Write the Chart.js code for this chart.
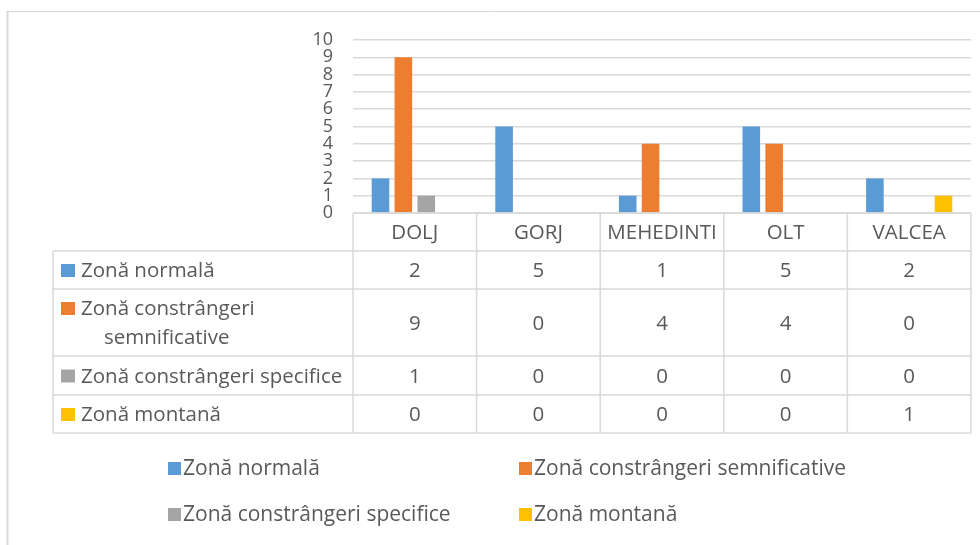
<!DOCTYPE html>
<html>
<head>
<meta charset="utf-8">
<script src="https://cdn.jsdelivr.net/npm/chart.js@4"></script>
<style>
    body { margin: 0; background: #ffffff; }
    #grafico_box { width: 980px; height: 545px; position: relative; }
</style>
</head>
<body>
<div id="grafico_box"><canvas id="canvas_grafico"></canvas></div>
<script>
// DADOS DO GRÁFICO
var judete = ['DOLJ', 'GORJ', 'MEHEDINTI', 'OLT', 'VALCEA']
var zonaNormala = [2, 5, 1, 5, 2]
var zonaSemnificative = [9, 0, 4, 4, 0]
var zonaSpecifice = [1, 0, 0, 0, 0]
var zonaMontana = [0, 0, 0, 0, 1]
var numeSerii = ['Zonă normală', 'Zonă constrângeri semnificative', 'Zonă constrângeri specifice', 'Zonă montană']
var culori = ['#5B9BD5', '#ED7D31', '#A5A5A5', '#FFC000']
var ticksY = [0, 1, 2, 3, 4, 5, 6, 7, 8, 9, 10]

var corTexto = '#595959'
var corLinha = '#d9d9d9'
var fonte = '"Open Sans", sans-serif'
var tamFonte = 20.5
var tamLegenda = 21
var ajusteY = 1.5 // o middle do Open Sans fica um pouco alto

var serii = [zonaNormala, zonaSemnificative, zonaSpecifice, zonaMontana]

// tabela de dados + legenda + moldura desenhadas depois do gráfico
var pluginTabela = {
    id: 'tabelaDados',
    afterDraw: function (chart) {
        var ctx = chart.ctx
        var area = chart.chartArea
        var xs = chart.scales.x
        var esq = 53
        var larg = (area.right - area.left) / judete.length
        var linhas = [area.bottom, 251, 289, 356, 395, 433]

        ctx.save()
        // moldura do gráfico
        ctx.strokeStyle = corLinha
        ctx.lineWidth = 1
        ctx.beginPath()
        ctx.moveTo(7, 11.5); ctx.lineTo(980, 11.5)
        ctx.stroke()
        ctx.lineWidth = 2
        ctx.beginPath()
        ctx.moveTo(7.5, 11); ctx.lineTo(7.5, 545)
        ctx.stroke()

        // linhas da tabela
        ctx.lineWidth = 1.5
        ctx.beginPath()
        ctx.moveTo(area.left, linhas[0]); ctx.lineTo(area.right, linhas[0])
        for (var i = 1; i < linhas.length; i++) {
            ctx.moveTo(esq, linhas[i]); ctx.lineTo(area.right, linhas[i])
        }
        ctx.moveTo(esq, linhas[1]); ctx.lineTo(esq, linhas[5])
        for (var j = 0; j <= judete.length; j++) {
            var xl = area.left + j * larg
            ctx.moveTo(xl, linhas[0]); ctx.lineTo(xl, linhas[5])
        }
        ctx.stroke()

        ctx.fillStyle = corTexto
        ctx.font = tamFonte + 'px ' + fonte
        ctx.textBaseline = 'middle'

        // cabeçalho com os judete
        ctx.textAlign = 'center'
        judete.forEach(function (jud, k) {
            ctx.fillText(jud, xs.getPixelForValue(k), (linhas[0] + linhas[1]) / 2 + ajusteY)
        })

        // linhas de valores
        serii.forEach(function (serie, s) {
            var yc = (linhas[s + 1] + linhas[s + 2]) / 2
            ctx.textAlign = 'center'
            ctx.fillStyle = corTexto
            serie.forEach(function (v, k) {
                ctx.fillText(String(v), xs.getPixelForValue(k), yc + ajusteY)
            })
            // chave + nome da série
            ctx.textAlign = 'left'
            if (s == 1) {
                ctx.fillStyle = culori[s]
                ctx.fillRect(61, 302, 14, 13)
                ctx.fillStyle = corTexto
                ctx.fillText('Zonă constrângeri', 81, 308 + ajusteY)
                ctx.fillText('semnificative', 104, 337 + ajusteY)
            } else {
                ctx.fillStyle = culori[s]
                ctx.fillRect(61, yc - 6, 14, 13)
                ctx.fillStyle = corTexto
                ctx.fillText(numeSerii[s], 81, yc + ajusteY)
            }
        })

        // legenda em baixo
        ctx.font = tamLegenda + 'px ' + fonte
        var posLegenda = [[168, 468], [519, 468], [168, 514], [519, 514]]
        numeSerii.forEach(function (nome, s) {
            var p = posLegenda[s]
            ctx.fillStyle = culori[s]
            ctx.fillRect(p[0], p[1] - 6, 13, 13)
            ctx.fillStyle = corTexto
            ctx.textAlign = 'left'
            ctx.fillText(nome, p[0] + 15, p[1] + ajusteY)
        })
        ctx.restore()
    }
}

var datasets = serii.map(function (serie, s) {
    return {
        label: numeSerii[s],
        data: serie,
        backgroundColor: culori[s],
        borderWidth: 0,
        categoryPercentage: 0.74,
        barPercentage: 0.77
    }
})

var config = {
    type: 'bar',
    data: {
        labels: judete,
        datasets: datasets
    },
    options: {
        responsive: true,
        maintainAspectRatio: false,
        animation: { duration: 0 },
        layout: {
            padding: { left: 0, right: 9, top: 40, bottom: 332 }
        },
        plugins: {
            legend: { display: false },
            tooltip: { enabled: false }
        },
        scales: {
            x: {
                display: false
            },
            y: {
                min: 0,
                max: 10,
                afterFit: function (scale) { scale.width = 353 },
                afterBuildTicks: function (scale) {
                    scale.ticks = ticksY.map(function (v) { return { value: v } })
                },
                border: { display: false },
                grid: { color: corLinha, lineWidth: 1.5, drawTicks: false },
                ticks: {
                    autoSkip: false,
                    color: corTexto,
                    padding: 20,
                    font: { family: fonte, size: 18 }
                }
            }
        }
    },
    plugins: [pluginTabela]
}

new Chart(document.getElementById('canvas_grafico'), config)
</script>
</body>
</html>
